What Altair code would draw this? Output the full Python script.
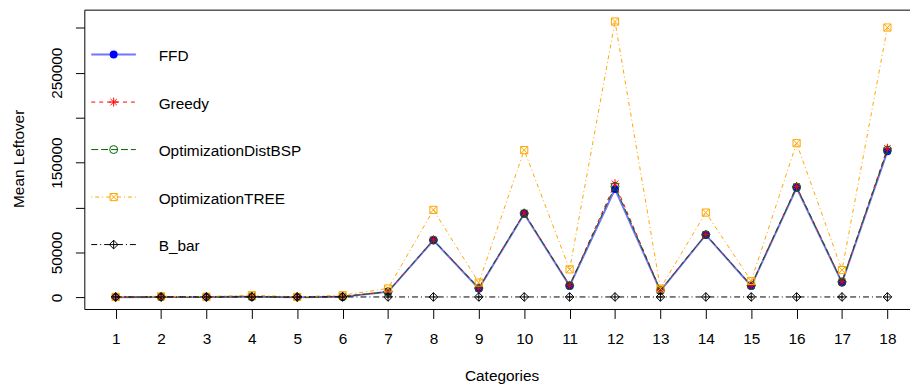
import altair as alt
import pandas as pd

categories = list(range(1, 19))
ffd = [300, 500, 400, 600, 300, 600, 6200, 63500, 9900, 93000, 12800, 120500, 7300, 69500, 12800, 122000, 16500, 162500]
greedy = [400, 700, 500, 900, 400, 1000, 6500, 64000, 10500, 94000, 13500, 126500, 8000, 70000, 13500, 123500, 17500, 166000]
dist_bsp = [350, 600, 450, 800, 350, 800, 6300, 63800, 10200, 93500, 13200, 123500, 7700, 69800, 13200, 122800, 17000, 164000]
tree = [600, 1200, 800, 2500, 600, 2500, 9900, 97400, 16500, 163900, 31200, 307000, 9900, 94400, 18300, 171600, 30400, 300300]
b_bar = [500, 500, 500, 500, 500, 500, 500, 500, 500, 500, 500, 500, 500, 500, 500, 500, 500, 500]

series_names = ["FFD", "Greedy", "OptimizationDistBSP", "OptimizationTREE", "B_bar"]
series_values = [ffd, greedy, dist_bsp, tree, b_bar]
y_tick_values = [0, 50000, 100000, 150000, 200000, 250000, 300000]
y_labelled = [0, 50000, 150000, 250000]

ASTERISK = "M-1,0L1,0M0,-1L0,1M-0.71,-0.71L0.71,0.71M-0.71,0.71L0.71,-0.71"
BOXX = "M-1,-1L1,-1L1,1L-1,1ZM-1,-1L1,1M-1,1L1,-1"
DIAMOND_PLUS = "M0,-1L1,0L0,1L-1,0ZM0,-1L0,1M-1,0L1,0"

styles = {
    "FFD": dict(line="#0000ff", point="#0000ff", opacity=0.55, width=2, dash=None,
                shape="circle", filled=True, size=64),
    "Greedy": dict(line="#ff0000", point="#ff0000", opacity=1, width=1, dash=[4, 4],
                   shape=ASTERISK, filled=False, size=81),
    "OptimizationDistBSP": dict(line="#006400", point="#006400", opacity=1, width=1, dash=[7, 3],
                                shape="circle", filled=False, size=64),
    "OptimizationTREE": dict(line="#ffa500", point="#ffa500", opacity=1, width=1, dash=[1, 3, 4, 3],
                             shape=BOXX, filled=False, size=52),
    "B_bar": dict(line="#000000", point="#000000", opacity=1, width=1, dash=[6, 3, 1, 3],
                  shape=DIAMOND_PLUS, filled=False, size=76),
}

rows = []
for name, vals in zip(series_names, series_values):
    for c, v in zip(categories, vals):
        rows.append({"cat": c, "value": v, "series": name})
df = pd.DataFrame(rows)
legend_df = pd.DataFrame({"label": series_names})

FONT = "Liberation Sans"
FS = 15.5
W, H = 833, 302

x_scale = alt.Scale(domain=[0.31, 18.498], nice=False, zero=False)
y_scale = alt.Scale(domain=[-12900, 320200], nice=False, zero=False)

x_axis_bottom = alt.Axis(
    orient="bottom",
    values=categories, tickSize=9.5, tickColor="black", domainColor="black",
    labelPadding=25, labelBaseline="alphabetic", labelFontSize=FS, labelFont=FONT,
    labelColor="black", labelFlush=False, labelOverlap=False, grid=False,
    title="Categories", titleFont=FONT, titleFontSize=FS, titleFontWeight="normal",
    titleColor="black", titleX=421, titleY=71.7, titleBaseline="alphabetic", titleAlign="center",
)
x_axis_top = alt.Axis(orient="top", labels=False, ticks=False, domain=True,
                      domainColor="black", grid=False, title=None)
y_expr = " || ".join(f"datum.value == {v}" for v in y_labelled)
y_axis = alt.Axis(
    orient="left",
    values=y_tick_values, format="d", labelExpr=f"({y_expr}) ? datum.label : ''",
    tickSize=9, tickColor="black", domainColor="black", grid=False,
    labelAngle=270, labelAlign="center", labelBaseline="alphabetic", labelPadding=14.3,
    labelFontSize=FS, labelFont=FONT, labelColor="black", labelFlush=False, labelOverlap=False,
    title="Mean Leftover", titleFont=FONT, titleFontSize=FS, titleFontWeight="normal",
    titleColor="black", titleAngle=270, titleAlign="center", titleBaseline="alphabetic",
    titleX=-61, titleY=150,
)

# data series: line + markers for each, drawn in legend order
base = alt.Chart(df)
data_layers = []
for i, name in enumerate(series_names):
    st = styles[name]
    sub = base.transform_filter(alt.datum.series == name)
    if i == 0:
        xa, ya = x_axis_bottom, y_axis
    elif name == "B_bar":
        xa, ya = x_axis_top, None
    else:
        xa, ya = None, None
    line_kwargs = dict(color=st["line"], strokeWidth=st["width"], opacity=st["opacity"])
    if st["dash"]:
        line_kwargs["strokeDash"] = st["dash"]
    line = sub.mark_line(**line_kwargs).encode(
        x=alt.X("cat:Q", scale=x_scale, axis=xa),
        y=alt.Y("value:Q", scale=y_scale, axis=ya),
    )
    pt_kwargs = dict(shape=st["shape"], size=st["size"], filled=st["filled"], opacity=1)
    if st["filled"]:
        pt_kwargs.update(fill=st["point"], strokeWidth=0)
    else:
        pt_kwargs.update(stroke=st["point"], strokeWidth=1)
    pts = sub.mark_point(**pt_kwargs).encode(
        x=alt.X("cat:Q", scale=x_scale, axis=None),
        y=alt.Y("value:Q", scale=y_scale, axis=None),
    )
    data_layers += [line, pts]

# hand-drawn legend (R style: line + symbol + label, no box)
leg_scale = alt.Scale(type="point", domain=series_names, range=[45.3, 237], padding=0)
leg_base = alt.Chart(legend_df)
legend_layers = []
for name in series_names:
    st = styles[name]
    sub = leg_base.transform_filter(alt.datum.label == name)
    rk = dict(color=st["line"], strokeWidth=st["width"], opacity=st["opacity"])
    if st["dash"]:
        rk["strokeDash"] = st["dash"]
    legend_layers.append(sub.mark_rule(**rk).encode(
        x=alt.value(7), x2=alt.value(52),
        y=alt.Y("label:N", scale=leg_scale, axis=None)))
    pk = dict(shape=st["shape"], size=st["size"], filled=st["filled"], opacity=1)
    if st["filled"]:
        pk.update(fill=st["point"], strokeWidth=0)
    else:
        pk.update(stroke=st["point"], strokeWidth=1)
    legend_layers.append(sub.mark_point(**pk).encode(
        x=alt.value(29.6), y=alt.Y("label:N", scale=leg_scale, axis=None)))
legend_layers.append(leg_base.mark_text(
    align="left", baseline="alphabetic", dy=6.7, font=FONT, fontSize=FS, color="black"
).encode(x=alt.value(75), y=alt.Y("label:N", scale=leg_scale, axis=None), text="label:N"))

chart = alt.layer(*data_layers, *legend_layers).resolve_scale(
    y="independent"
).resolve_axis(x="independent").properties(
    width=W, height=H,
    autosize=alt.AutoSizeParams(type="none"),
    padding={"left": 77, "top": 0, "right": 0, "bottom": 74},
    background="white",
).configure_view(strokeWidth=0)

chart.save("out.html", embed_options={"renderer": "svg", "actions": False})
